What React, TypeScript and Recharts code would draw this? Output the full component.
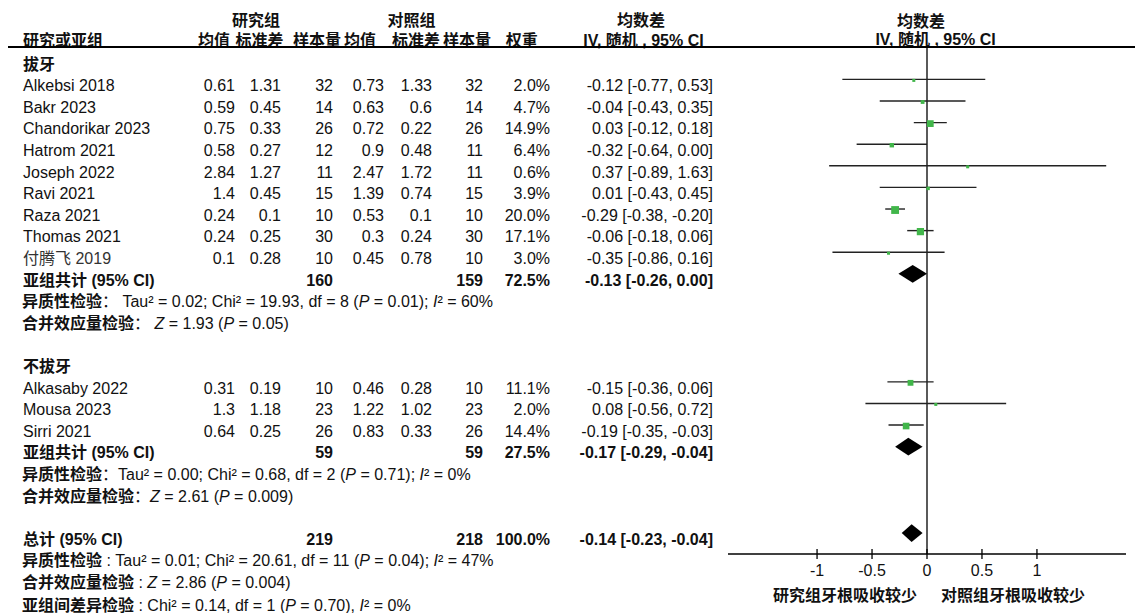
import React from "react";
import {
  ComposedChart,
  Scatter,
  XAxis,
  YAxis,
  ReferenceLine,
  ReferenceArea,
} from "recharts";

// --- individual studies ---
const studyNames = [
  "Alkebsi 2018",
  "Bakr 2023",
  "Chandorikar 2023",
  "Hatrom 2021",
  "Joseph 2022",
  "Ravi 2021",
  "Raza 2021",
  "Thomas 2021",
  "付腾飞 2019",
  "Alkasaby 2022",
  "Mousa 2023",
  "Sirri 2021",
];
const studyRows = [1, 2, 3, 4, 5, 6, 7, 8, 9, 15, 16, 17];
const expMean = [0.61, 0.59, 0.75, 0.58, 2.84, 1.4, 0.24, 0.24, 0.1, 0.31, 1.3, 0.64];
const expSd = [1.31, 0.45, 0.33, 0.27, 1.27, 0.45, 0.1, 0.25, 0.28, 0.19, 1.18, 0.25];
const expN = [32, 14, 26, 12, 11, 15, 10, 30, 10, 10, 23, 26];
const ctlMean = [0.73, 0.63, 0.72, 0.9, 2.47, 1.39, 0.53, 0.3, 0.45, 0.46, 1.22, 0.83];
const ctlSd = [1.33, 0.6, 0.22, 0.48, 1.72, 0.74, 0.1, 0.24, 0.78, 0.28, 1.02, 0.33];
const ctlN = [32, 14, 26, 11, 11, 15, 10, 30, 10, 10, 23, 26];
const weights = [2.0, 4.7, 14.9, 6.4, 0.6, 3.9, 20.0, 17.1, 3.0, 11.1, 2.0, 14.4];
const md = [-0.12, -0.04, 0.03, -0.32, 0.37, 0.01, -0.29, -0.06, -0.35, -0.15, 0.08, -0.19];
const ciLow = [-0.77, -0.43, -0.12, -0.64, -0.89, -0.43, -0.38, -0.18, -0.86, -0.36, -0.56, -0.35];
const ciHigh = [0.53, 0.35, 0.18, 0.0, 1.63, 0.45, -0.2, 0.06, 0.16, 0.06, 0.72, -0.03];

// --- pooled estimates (subgroup 1, subgroup 2, overall) ---
const pooledLabels = ["亚组共计 (95% CI)", "亚组共计 (95% CI)", "总计 (95% CI)"];
const pooledRows = [10, 18, 22];
const pooledExpN = [160, 59, 219];
const pooledCtlN = [159, 59, 218];
const pooledWeight = [72.5, 27.5, 100.0];
const pooledMd = [-0.13, -0.17, -0.14];
const pooledLow = [-0.26, -0.29, -0.23];
const pooledHigh = [0.0, -0.04, -0.04];

// --- test statistics ---
const hetRows = [11, 19, 23];
const hetColon = ["： ", "：", " : "];
const hetTau = ["0.02", "0.00", "0.01"];
const hetChi = ["19.93", "0.68", "20.61"];
const hetDf = [8, 2, 11];
const hetP = ["0.01", "0.71", "0.04"];
const hetI2 = ["60%", "0%", "47%"];
const zRows = [12, 20, 24];
const zVal = ["1.93", "2.61", "2.86"];
const zP = ["0.05", "0.009", "0.004"];

const subgroupHeads = ["拔牙", "不拔牙"];
const subgroupHeadRows = [0, 14];

const xTicks = [-1, -0.5, 0, 0.5, 1];

const W = 1135;
const H = 613;
const FONT = '"Liberation Sans", Arial, "Noto Sans CJK SC", sans-serif';
const TEXT_Y0 = 64.5;
const ROW_H = 21.6;
const rowY = (r: number) => TEXT_Y0 + r * ROW_H;

// column right edges
const COL = {
  expMean: 235,
  expSd: 281,
  expN: 333,
  ctlMean: 384,
  ctlSd: 432,
  ctlN: 483,
  weight: 550,
  ci: 713,
};

const fmtCi = (m: number, lo: number, hi: number) =>
  `${m.toFixed(2)} [${lo.toFixed(2)}, ${hi.toFixed(2)}]`;

function Txt({
  x,
  y,
  align = "left",
  bold = false,
  color = "#111",
  children,
}: {
  x: number;
  y: number;
  align?: "left" | "right" | "center";
  bold?: boolean;
  color?: string;
  children: React.ReactNode;
}) {
  const style: React.CSSProperties = {
    position: "absolute",
    top: y - 10,
    lineHeight: "20px",
    whiteSpace: "nowrap",
    fontWeight: bold ? 700 : 400,
    color,
  };
  if (align === "left") style.left = x;
  else if (align === "right") style.right = W - x;
  else {
    style.left = x - 150;
    style.width = 300;
    style.textAlign = "center";
  }
  return <div style={style}>{children}</div>;
}

const renderTick = (props: any) => {
  const { x, y, payload } = props;
  return (
    <g>
      <line x1={x} x2={x} y1={y - 5} y2={y + 5} stroke="#000" strokeWidth={1.3} />
      <text
        x={x}
        y={y + 22}
        textAnchor="middle"
        fontSize={16}
        fontFamily={FONT}
        fill="#111"
      >
        {payload.value}
      </text>
    </g>
  );
};

const renderSquare = (props: any) => {
  const { cx, cy, payload } = props;
  const s = Math.max(3, 1.75 * Math.sqrt(payload.w));
  return <rect x={cx - s / 2} y={cy + 1 - s / 2} width={s} height={s} fill="#41b64a" />;
};

const diamondShape = (m: number, lo: number, hi: number) => (props: any) => {
  const { x, y, width, height } = props;
  const xm = x + (width * (m - lo)) / (hi - lo);
  const pts = [
    [x, y + height / 2],
    [xm, y],
    [x + width, y + height / 2],
    [xm, y + height],
  ]
    .map((p) => p.join(","))
    .join(" ");
  return <polygon points={pts} fill="#000" />;
};

export default function App() {
  const points = md.map((m, i) => ({ md: m, row: studyRows[i], w: weights[i] }));

  return (
    <div
      style={{
        position: "absolute",
        left: 0,
        top: 0,
        width: W,
        height: H,
        background: "#fff",
        fontFamily: FONT,
        fontSize: 16,
        color: "#111",
        overflow: "hidden",
      }}
    >
      {/* header */}
      <Txt x={256} y={21} align="center" bold>研究组</Txt>
      <Txt x={411.5} y={21} align="center" bold>对照组</Txt>
      <Txt x={641} y={21} align="center" bold>均数差</Txt>
      <Txt x={921} y={21.7} align="center" bold>均数差</Txt>
      <Txt x={23} y={40.7} bold>研究或亚组</Txt>
      <Txt x={214} y={40.7} align="center" bold>均值</Txt>
      <Txt x={259.5} y={40.7} align="center" bold>标准差</Txt>
      <Txt x={317} y={40.7} align="center" bold>样本量</Txt>
      <Txt x={360} y={40.7} align="center" bold>均值</Txt>
      <Txt x={416} y={40.7} align="center" bold>标准差</Txt>
      <Txt x={467} y={40.7} align="center" bold>样本量</Txt>
      <Txt x={521.7} y={40.7} align="center" bold>权重</Txt>
      <Txt x={643.5} y={40.7} align="center" bold>IV, 随机 , 95% CI</Txt>
      <Txt x={935.6} y={39.5} align="center" bold>IV, 随机 , 95% CI</Txt>
      <div
        style={{
          position: "absolute",
          left: 8,
          top: 46,
          width: W - 8,
          height: 2,
          background: "#000",
        }}
      />

      {subgroupHeads.map((h, i) => (
        <Txt key={h} x={23} y={rowY(subgroupHeadRows[i])} bold>
          {h}
        </Txt>
      ))}

      {studyNames.map((name, i) => {
        const y = rowY(studyRows[i]);
        return (
          <React.Fragment key={name}>
            <Txt x={23} y={y} color={i === 8 ? "#333" : "#111"}>{name}</Txt>
            <Txt x={COL.expMean} y={y} align="right">{String(expMean[i])}</Txt>
            <Txt x={COL.expSd} y={y} align="right">{String(expSd[i])}</Txt>
            <Txt x={COL.expN} y={y} align="right">{String(expN[i])}</Txt>
            <Txt x={COL.ctlMean} y={y} align="right">{String(ctlMean[i])}</Txt>
            <Txt x={COL.ctlSd} y={y} align="right">{String(ctlSd[i])}</Txt>
            <Txt x={COL.ctlN} y={y} align="right">{String(ctlN[i])}</Txt>
            <Txt x={COL.weight} y={y} align="right">{weights[i].toFixed(1) + "%"}</Txt>
            <Txt x={COL.ci} y={y} align="right">{fmtCi(md[i], ciLow[i], ciHigh[i])}</Txt>
          </React.Fragment>
        );
      })}

      {pooledLabels.map((label, i) => {
        const y = rowY(pooledRows[i]);
        return (
          <React.Fragment key={i}>
            <Txt x={23} y={y} bold>{label}</Txt>
            <Txt x={COL.expN} y={y} align="right" bold>{String(pooledExpN[i])}</Txt>
            <Txt x={COL.ctlN} y={y} align="right" bold>{String(pooledCtlN[i])}</Txt>
            <Txt x={COL.weight} y={y} align="right" bold>{pooledWeight[i].toFixed(1) + "%"}</Txt>
            <Txt x={COL.ci} y={y} align="right" bold>
              {fmtCi(pooledMd[i], pooledLow[i], pooledHigh[i])}
            </Txt>
          </React.Fragment>
        );
      })}

      {hetRows.map((r, i) => (
        <Txt key={"h" + i} x={22} y={rowY(r)}>
          <b>异质性检验</b>
          {hetColon[i]}Tau² = {hetTau[i]}; Chi² = {hetChi[i]}, df = {hetDf[i]} (<i>P</i> ={" "}
          {hetP[i]}); <i>I</i>² = {hetI2[i]}
        </Txt>
      ))}
      {zRows.map((r, i) => (
        <Txt key={"z" + i} x={22} y={rowY(r)}>
          <b>合并效应量检验</b>
          {hetColon[i]}
          <i>Z</i> = {zVal[i]} (<i>P</i> = {zP[i]})
        </Txt>
      ))}
      <Txt x={22} y={rowY(25) + 1}>
        <b>亚组间差异检验</b> : Chi² = 0.14, df = 1 (<i>P</i> = 0.70), <i>I</i>² = 0%
      </Txt>

      <Txt x={845} y={596} align="center" bold>研究组牙根吸收较少</Txt>
      <Txt x={1013} y={596} align="center" bold>对照组牙根吸收较少</Txt>

      <div style={{ position: "absolute", left: 0, top: 0 }}>
        <ComposedChart
          width={W}
          height={H}
          margin={{ top: 47, right: 9, bottom: 19, left: 728 }}
        >
          <XAxis
            type="number"
            dataKey="md"
            domain={[-1.81, 1.81]}
            ticks={xTicks}
            allowDataOverflow
            height={40}
            tickSize={0}
            tickMargin={0}
            tickLine={false}
            tick={renderTick}
            axisLine={{ stroke: "#000", strokeWidth: 1.3 }}
          />
          <YAxis
            type="number"
            dataKey="row"
            domain={[-0.5, 22.97]}
            reversed
            hide
            allowDataOverflow
          />
          <ReferenceLine x={0} stroke="#000" strokeWidth={1.3} />
          {md.map((m, i) => (
            <ReferenceLine
              key={"ci" + i}
              segment={[
                { x: ciLow[i], y: studyRows[i] },
                { x: ciHigh[i], y: studyRows[i] },
              ]}
              stroke="#222"
              strokeWidth={1.4}
            />
          ))}
          {pooledMd.map((m, i) => (
            <ReferenceArea
              key={"d" + i}
              x1={pooledLow[i]}
              x2={pooledHigh[i]}
              y1={pooledRows[i] - 0.41}
              y2={pooledRows[i] + 0.41}
              shape={diamondShape(m, pooledLow[i], pooledHigh[i])}
            />
          ))}
          <Scatter data={points} shape={renderSquare} isAnimationActive={false} />
        </ComposedChart>
      </div>
    </div>
  );
}
